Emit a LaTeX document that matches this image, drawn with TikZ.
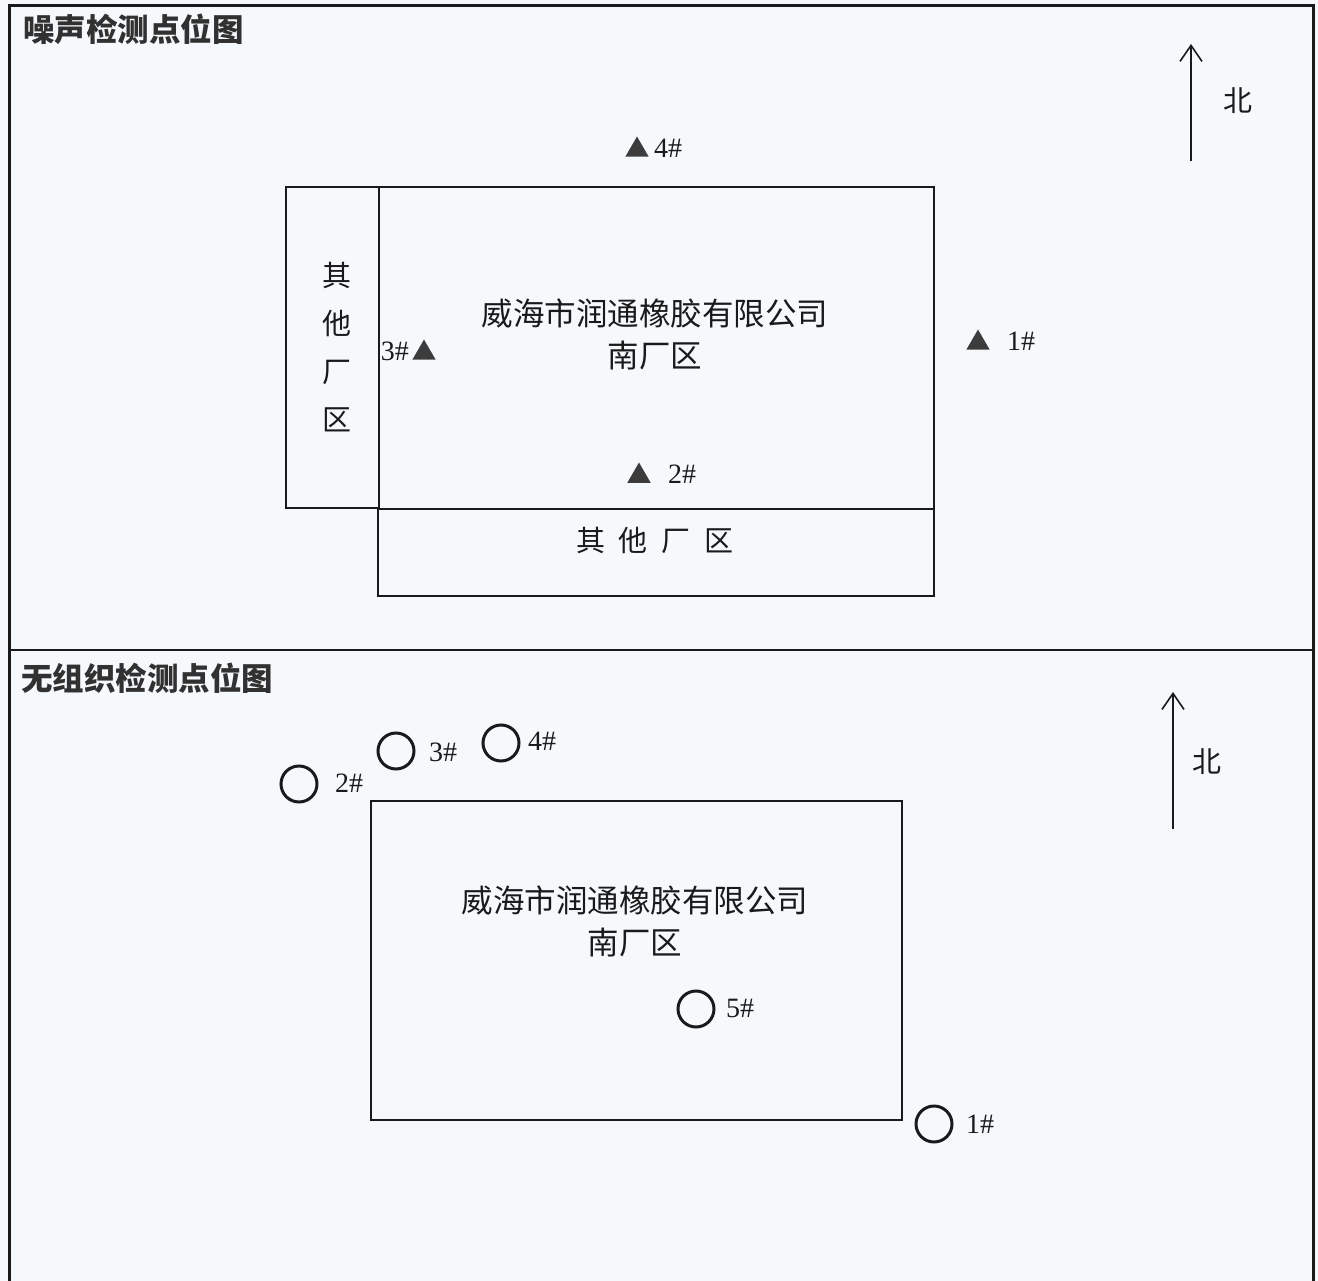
\documentclass[tikz,border=0pt]{standalone}
\usepackage{fontspec}
\setmainfont{Liberation Serif}
\newfontfamily\cjk{Noto Sans CJK SC}
\usetikzlibrary{shapes.geometric,arrows.meta}
\definecolor{bg}{HTML}{F6F9FC}
\definecolor{ink}{HTML}{1A1A1A}
\tikzset{
  box/.style={draw=ink, line width=1.8pt, anchor=north west, inner sep=0pt},
  tri/.style={regular polygon, regular polygon sides=3, fill=ink!85, draw=none, minimum size=27pt, inner sep=0pt},
  ring/.style={circle, draw=ink, line width=3pt, minimum size=36pt, inner sep=0pt},
  lbl/.style={font=\fontsize{28}{28}\selectfont, text=ink, inner sep=0pt},
  cn/.style={font=\cjk\fontsize{29}{29}\selectfont, text=ink, inner sep=0pt},
  title/.style={font=\cjk\bfseries\fontsize{31.5}{31.5}\selectfont, text=ink!90, inner sep=0pt, anchor=west},
  northarrow/.style={draw=ink, line width=1.6pt, -{Straight Barb[length=16pt,width=22pt,line width=1.6pt]}}
}
\begin{document}
\begin{tikzpicture}[x=1pt,y=-1pt]
\useasboundingbox (0,0) rectangle (1318,1281);
\fill[bg] (0,0) rectangle (1318,1281);
% outer frame
\draw[ink, line width=3pt] (9,1290) -- (9,6) -- (1313,6) -- (1313,1290);
\draw[ink, line width=1.8pt] (9,650) -- (1313,650);
% titles
\node[title] (t1) at (23,29) {噪声检测点位图};
\node[title] (t2) at (21,678) {无组织检测点位图};

% ---------- top: noise ----------
\node[box, minimum width=93pt, minimum height=321pt] (left) at (285,186) {};
\node[box, minimum width=555pt, minimum height=322pt] (main) at (378,186) {};
\node[box, minimum width=556pt, minimum height=87pt] (bottom) at (377,508) {};
\node[cn, align=center, text width=32pt, font=\cjk\fontsize{29}{48}\selectfont] (lefttxt) at (337,347) {其\\他\\厂\\区};
\node[cn, align=center, font=\cjk\fontsize{31.5}{42}\selectfont] (maintxt) at (655,334) {威海市润通橡胶有限公司\\南厂区};
\node[cn] (bottomtxt) at (655,540) {其\hspace{14pt}他\hspace{14pt}厂\hspace{14pt}区};

\node[tri] (n4) at (637,150) {};
\node[lbl, anchor=west] (l4) at (654,148) {4\#};
\node[tri] (n1) at (978,343) {};
\node[lbl, anchor=west] (l1) at (1007,341) {1\#};
\node[tri] (n3) at (424,353) {};
\node[lbl, anchor=east] (l3) at (409,351) {3\#};
\node[tri] (n2) at (639,476) {};
\node[lbl, anchor=west] (l2) at (668,474) {2\#};

\coordinate (na1) at (1191,161);
\coordinate (nb1) at (1191,44);
\draw[northarrow] (na1) -- (nb1);
\node[cn] (north1) at (1238,101) {北};

% ---------- bottom: fugitive ----------
\node[box, minimum width=531pt, minimum height=319pt] (box2) at (370,800) {};
\node[cn, align=center, font=\cjk\fontsize{31.5}{42}\selectfont] (maintxt2) at (635,921) {威海市润通橡胶有限公司\\南厂区};

\node[ring] (c2) at (299,784) {};
\node[lbl, anchor=west] (m2) at (335,783) {2\#};
\node[ring] (c3) at (396,751) {};
\node[lbl, anchor=west] (m3) at (429,752) {3\#};
\node[ring] (c4) at (501,743) {};
\node[lbl, anchor=west] (m4) at (528,741) {4\#};
\node[ring] (c5) at (696,1009) {};
\node[lbl, anchor=west] (m5) at (726,1008) {5\#};
\node[ring] (c1) at (934,1124) {};
\node[lbl, anchor=west] (m1) at (966,1124) {1\#};

\coordinate (na2) at (1173,829);
\coordinate (nb2) at (1173,692);
\draw[northarrow] (na2) -- (nb2);
\node[cn] (north2) at (1207,762) {北};
\end{tikzpicture}
\end{document}
